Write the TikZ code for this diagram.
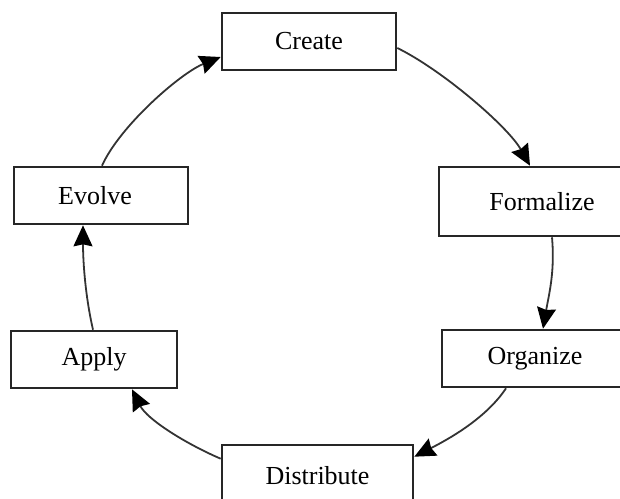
\documentclass[tikz,border=0pt]{standalone}
\usepackage{fontspec}
\setmainfont{Liberation Serif}
\usetikzlibrary{arrows.meta}

\begin{document}
\begin{tikzpicture}[x=1pt,y=-1pt,
  stage/.style={draw=black!85, line width=2.6pt, fill=white, inner sep=0pt,
    font=\fontsize{26}{30}\selectfont},
  flow/.style={draw=black!80, line width=1.8pt,
    -{Stealth[length=21pt,width=19pt,inset=2pt,fill=black,color=black]}}]
  \useasboundingbox (0,0) rectangle (620,498);
  \clip (0,0) rectangle (620,498);

  % the six stages of the cycle
  \node[stage, minimum width=174pt, minimum height=57pt] (create)     at (309,41.5)  {Create};
  \node[stage, minimum width=206pt, minimum height=69pt] (formalize)  at (542,201.5) {Formalize};
  \node[stage, minimum width=186pt, minimum height=57pt] (organize)   at (535,358.5) {Organize};
  \node[stage, minimum width=191pt, minimum height=62pt] (distribute) at (317.5,476) {Distribute};
  \node[stage, minimum width=166pt, minimum height=57pt] (apply)      at (94,359.5)  {Apply};
  \node[stage, minimum width=174pt, minimum height=57pt] (evolve)     at (101,195.5) {\hspace*{-12pt}Evolve};

  % curved arrows running clockwise round the cycle
  \draw[flow] ([yshift=-6.5pt]create.east)
    .. controls +(45,22) and +(-22,-39) .. ([xshift=-12pt]formalize.north);
  \draw[flow] ([xshift=10pt]formalize.south)
    .. controls +(3,35) and +(6,-35) .. ([xshift=8pt]organize.north);
  \draw[flow] ([xshift=-29pt]organize.south)
    .. controls +(-20,30) and +(35,-18) .. ([yshift=-13pt]distribute.north east);
  \draw[flow] ([yshift=-15pt]distribute.north west)
    .. controls +(-35,-15) and +(15,30) .. ([xshift=38pt]apply.south);
  \draw[flow] ([xshift=-1pt]apply.north)
    .. controls +(-8,-35) and +(0,35) .. ([xshift=-18pt]evolve.south);
  \draw[flow] ([xshift=1pt]evolve.north)
    .. controls +(18,-40) and +(-40,16) .. ([yshift=-15.5pt]create.west);
\end{tikzpicture}
\end{document}
